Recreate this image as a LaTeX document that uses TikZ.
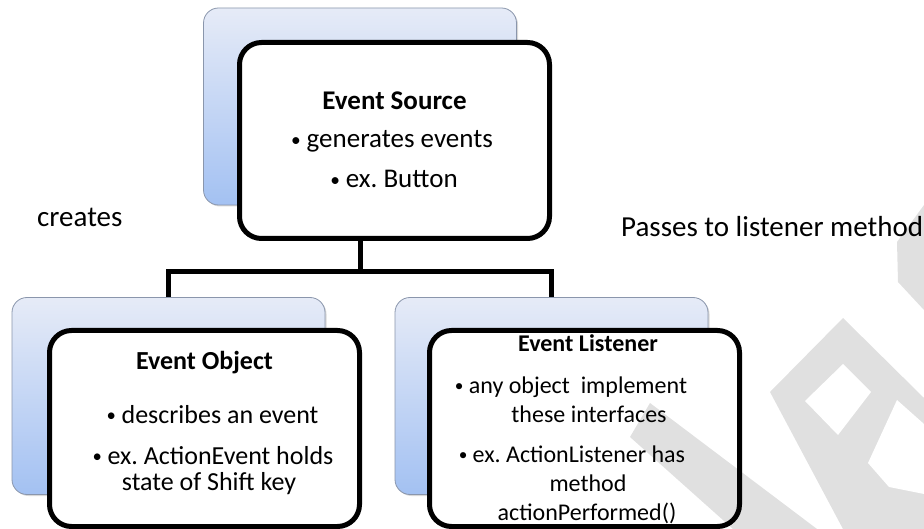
\documentclass[tikz,border=0pt]{standalone}
\usepackage{fontspec}
\usepackage{graphicx}
\setmainfont{Carlito}
\usetikzlibrary{shadows}
\frenchspacing

\definecolor{backtop}{RGB}{230,235,247}
\definecolor{backbot}{RGB}{163,193,242}
\definecolor{backedge}{RGB}{138,150,172}

% small round list bullet followed by a short gap
\newcommand\bul{\raisebox{0.07em}{\scalebox{0.72}{\textbullet}}\hspace{0.22em}}

\begin{document}
\begin{tikzpicture}[x=1pt,y=-1pt,
  backbox/.style={draw=backedge, line width=0.8pt, rounded corners=15pt,
    top color=backtop, bottom color=backbot,
    minimum width=313pt, minimum height=197pt,
    drop shadow={shadow xshift=1.5pt, shadow yshift=-1.5pt, opacity=0.3}},
  frontbox/.style={draw=black, line width=5pt, fill=white, rounded corners=22pt,
    minimum width=310pt, minimum height=196pt},
  link/.style={draw=black, line width=5pt, line join=miter},
  txt/.style={anchor=base, inner sep=0pt},
  srcfont/.style={txt, font=\fontsize{27}{32}\selectfont},
  objfont/.style={txt, font=\fontsize{26}{31}\selectfont},
  lisfont/.style={txt, font=\fontsize{24}{29}\selectfont},
  side/.style={anchor=base west, inner sep=0pt, font=\fontsize{29}{35}\selectfont},
  wmark/.style={fill=black, fill opacity=0.12}
]
\useasboundingbox (0,0) rectangle (924,529);
\fill[white] (0,0) rectangle (924,529);

% stacked card backgrounds
\node[backbox] (srcback) at (360,106.5) {};
\node[backbox] (objback) at (168.5,396) {};
\node[backbox] (lisback) at (551.5,396) {};

% tree connector
\coordinate (j) at (360,272);
\node[frontbox] (src) at (394.5,140.5) {};
\draw[link] (j |- src.south) -- (j);
\draw[link] (objback.north) |- (j) -| (lisback.north);

% front cards
\node[frontbox] (obj) at (204.5,428.5) {};
\node[frontbox] (lis) at (584.5,428.5) {};

% Event Source
\node[srcfont] (srcA) at (394.5,110) {\bfseries Event Source};
\node[srcfont] (srcB) at (392,148) {\bul generates events};
\node[srcfont] (srcC) at (394,188) {\bul ex. Button};

% Event Object
\node[objfont] (objA) at (204.5,370) {\bfseries Event Object};
\node[objfont] (objB) at (212.5,423) {\bul describes an event};
\node[objfont] (objC) at (213,464) {\bul ex. ActionEvent holds};
\node[objfont] (objD) at (209,490) {state of Shift key};

% Event Listener
\node[lisfont] (lisA) at (588,352) {\bfseries Event Listener};
\node[lisfont] (lisB) at (571,393) {\bul any object~ implement};
\node[lisfont] (lisC) at (589,422) {these interfaces};
\node[lisfont] (lisD) at (572,462) {\bul ex. ActionListener has};
\node[lisfont] (lisE) at (588,491) {method};
\node[lisfont] (lisF) at (587,520) {actionPerformed()};

% side labels
\node[side] (creates) at (37,227) {creates};
\node[side] (passes) at (621,237) {Passes to listener method};

% faint logo mark in the lower right
\fill[wmark] (924,205) -- (897,242) -- (898,282) -- (924,310) -- cycle;
\fill[wmark] (630,437) -- (650,403) -- (817,529) -- (733,529) -- cycle;
\fill[wmark] (770,392) -- (843,318) -- (924,398) -- (924,529) -- (843,529) -- cycle;
% the two open counters of the mark
\fill[white] (805,401) -- (843,364) -- (871,392) -- (838,435) -- cycle;
\fill[white] (868,463) -- (897,400) -- (924,424) -- (924,494) -- (889,487) -- cycle;
\end{tikzpicture}
\end{document}
